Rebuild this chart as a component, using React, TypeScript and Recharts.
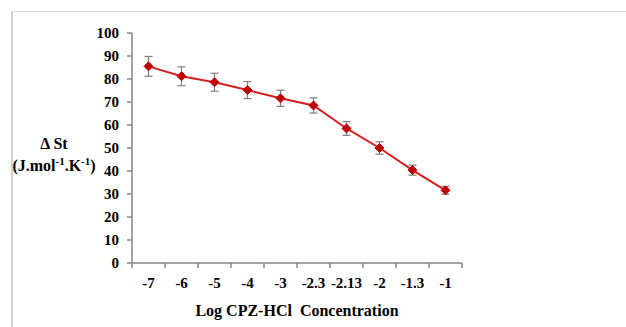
import { LineChart, Line, XAxis, YAxis, ErrorBar } from "recharts";

const concentrations = ["-7", "-6", "-5", "-4", "-3", "-2.3", "-2.13", "-2", "-1.3", "-1"];
const deltaS = [85.5, 81.2, 78.6, 75.2, 71.6, 68.5, 58.5, 50.0, 40.4, 31.6];
const deltaSErr = [4.3, 4.1, 3.9, 3.7, 3.5, 3.3, 3.0, 2.7, 2.2, 1.7];
const yTicks = [0, 10, 20, 30, 40, 50, 60, 70, 80, 90, 100];

const data = concentrations.map((c, i) => ({ conc: c, ds: deltaS[i], err: deltaSErr[i] }));

const FONT = "'Liberation Serif', 'Times New Roman', serif";
const AXIS = "#868686";

function XTick(props: any) {
  const { x, y, payload, index, width } = props;
  const band = (width || 330) / concentrations.length;
  const ty = y - 8;
  return (
    <g>
      <line x1={x - band / 2} y1={ty} x2={x - band / 2} y2={ty + 5} stroke={AXIS} strokeWidth={1.5} />
      {index === concentrations.length - 1 && (
        <line x1={x + band / 2} y1={ty} x2={x + band / 2} y2={ty + 5} stroke={AXIS} strokeWidth={1.5} />
      )}
      <text x={x} y={ty + 25} textAnchor="middle" fontFamily={FONT} fontWeight="bold" fontSize={15} fill="#000">
        {payload.value}
      </text>
    </g>
  );
}

function Diamond(props: any) {
  const { cx, cy } = props;
  if (cx == null || cy == null) return null;
  const r = 4.5;
  return (
    <path
      d={`M${cx},${cy - r}L${cx + r},${cy}L${cx},${cy + r}L${cx - r},${cy}Z`}
      fill="#c00000"
      stroke="#c00000"
      strokeWidth={1}
    />
  );
}

function YLabel(props: any) {
  const { viewBox } = props;
  const cx = viewBox.x - 28;
  return (
    <text x={cx} textAnchor="middle" fontFamily={FONT} fontWeight="bold" fontSize={16} fill="#000">
      <tspan x={cx} y={149}>Δ St</tspan>
      <tspan x={cx} y={171}>
        (J.mol<tspan fontSize={11} dy={-6}>-1</tspan>
        <tspan dy={6}>.K</tspan>
        <tspan fontSize={11} dy={-6}>-1</tspan>
        <tspan dy={6}>)</tspan>
      </tspan>
    </text>
  );
}

export default function App() {
  return (
    <div style={{ position: "absolute", left: 0, top: 0, width: 626, height: 327, background: "#fff" }}>
      <div
        style={{
          position: "absolute",
          left: 11,
          top: 11,
          right: 0,
          bottom: 0,
          borderTop: "1px solid #dcdcdc",
          borderLeft: "2px solid #d0d0d0",
        }}
      />
      <div style={{ position: "absolute", left: 0, top: 0 }}>
        <LineChart width={626} height={327} data={data} margin={{ top: 33, right: 164, bottom: 34, left: 82 }}>
          <XAxis
            dataKey="conc"
            scale="band"
            height={30}
            tickLine={false}
            tick={<XTick />}
            stroke={AXIS}
            strokeWidth={1.5}
            interval={0}
            label={{
              value: "Log CPZ-HCl\u00a0 Concentration",
              position: "insideBottom",
              offset: -23,
              fontFamily: FONT,
              fontWeight: "bold",
              fontSize: 16,
              fill: "#000",
            }}
          />
          <YAxis
            width={50}
            domain={[0, 100]}
            ticks={yTicks}
            interval={0}
            tickSize={5}
            tickMargin={8}
            stroke={AXIS}
            strokeWidth={1.5}
            tick={{ fontFamily: FONT, fontWeight: "bold", fontSize: 15, fill: "#000" }}
            label={<YLabel />}
          />
          <Line
            dataKey="ds"
            stroke="#d42020"
            strokeWidth={2}
            dot={<Diamond />}
            activeDot={false}
            isAnimationActive={false}
          >
            <ErrorBar dataKey="err" width={4} stroke="#7f7f7f" strokeWidth={1.2} direction="y" isAnimationActive={false} />
          </Line>
        </LineChart>
      </div>
    </div>
  );
}
